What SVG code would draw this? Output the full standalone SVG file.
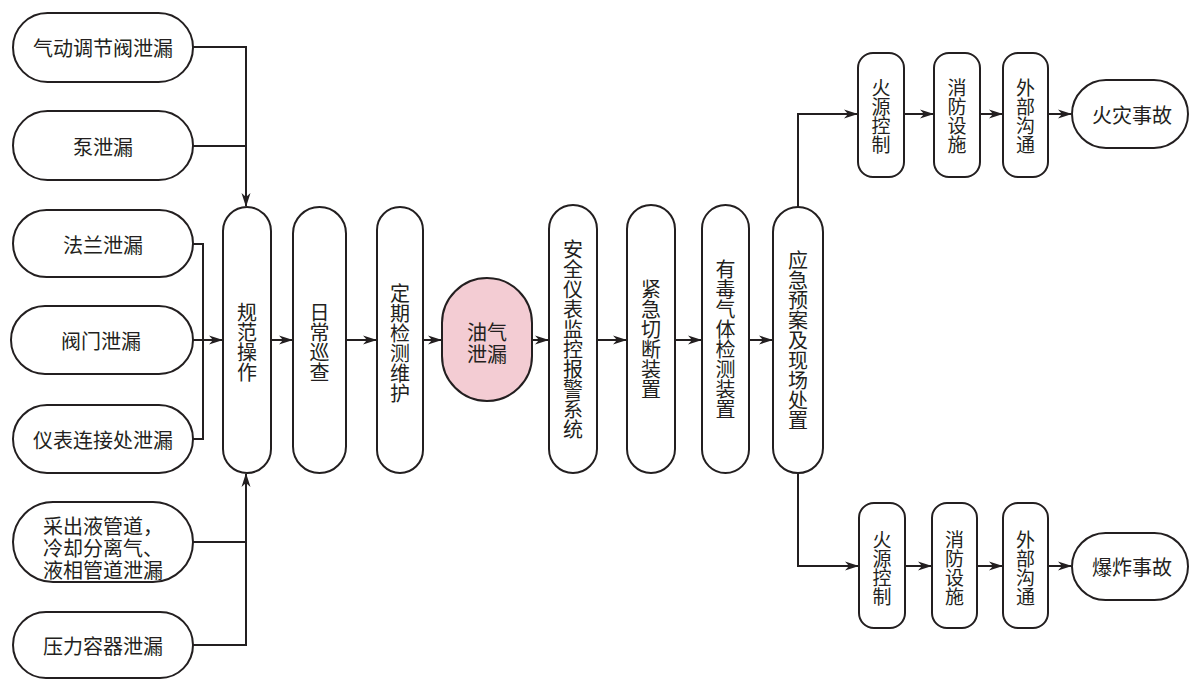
<svg xmlns="http://www.w3.org/2000/svg" width="1190" height="680" viewBox="0 0 1190 680">
<defs>
<style>
.n{fill:#fff;stroke:#231f20;stroke-width:2}
.pink{fill:#f3ccd3}
.t{font-family:"Noto Sans CJK SC","Noto Sans CJK TC",sans-serif;font-size:20px;fill:#231f20;text-anchor:middle;dominant-baseline:central}
.v{writing-mode:vertical-rl}
.s{font-size:19px}
.l{text-anchor:start}
.c{fill:none;stroke:#231f20;stroke-width:2}
</style>
<marker id="ar" viewBox="0 0 14 10" refX="13" refY="5" markerWidth="14" markerHeight="10" markerUnits="userSpaceOnUse" orient="auto">
<path d="M0,0.5 L14,5 L0,9.5 L4,5 Z" fill="#231f20"/>
</marker>
</defs>
<rect width="1190" height="680" fill="#fff"/>
<g id="connectors">
<path class="c" d="M193,47 H246 V206" marker-end="url(#ar)"/>
<path class="c" d="M193,146 H246"/>
<path class="c" d="M193,244 H203 V439 H193"/>
<path class="c" d="M193,340 H222" marker-end="url(#ar)"/>
<path class="c" d="M193,542 H246"/>
<path class="c" d="M193,645 H246 V474" marker-end="url(#ar)"/>
<path class="c" d="M271,340 H292" marker-end="url(#ar)"/>
<path class="c" d="M346,340 H376" marker-end="url(#ar)"/>
<path class="c" d="M423,340 H441" marker-end="url(#ar)"/>
<path class="c" d="M532,340 H548" marker-end="url(#ar)"/>
<path class="c" d="M597,340 H626" marker-end="url(#ar)"/>
<path class="c" d="M675,340 H701" marker-end="url(#ar)"/>
<path class="c" d="M749,340 H772" marker-end="url(#ar)"/>
<path class="c" d="M798,207 V114 H857" marker-end="url(#ar)"/>
<path class="c" d="M904,114 H933" marker-end="url(#ar)"/>
<path class="c" d="M980,114 H1002" marker-end="url(#ar)"/>
<path class="c" d="M1048,114 H1071" marker-end="url(#ar)"/>
<path class="c" d="M798,473 V566 H858" marker-end="url(#ar)"/>
<path class="c" d="M905,566 H931" marker-end="url(#ar)"/>
<path class="c" d="M977,566 H1002" marker-end="url(#ar)"/>
<path class="c" d="M1048,566 H1071" marker-end="url(#ar)"/>
</g>
<g id="n1"><rect class="n" x="13" y="13" width="180" height="69" rx="34.5"/><text class="t" x="103" y="47">气动调节阀泄漏</text></g>
<g id="n2"><rect class="n" x="13" y="111" width="180" height="69" rx="34.5"/><text class="t" x="103" y="146">泵泄漏</text></g>
<g id="n3"><rect class="n" x="13" y="210" width="180" height="67" rx="33.5"/><text class="t" x="103" y="244">法兰泄漏</text></g>
<g id="n4"><rect class="n" x="11" y="306" width="182" height="68" rx="34"/><text class="t" x="101" y="340">阀门泄漏</text></g>
<g id="n5"><rect class="n" x="13" y="405" width="180" height="68" rx="34"/><text class="t" x="103" y="439">仪表连接处泄漏</text></g>
<g id="n6"><rect class="n" x="13" y="502" width="180" height="80" rx="40"/><text class="t l" x="43" y="525">采出液管道，</text><text class="t l" x="43" y="547">冷却分离气、</text><text class="t l" x="43" y="569">液相管道泄漏</text></g>
<g id="n7"><rect class="n" x="13" y="612" width="180" height="66" rx="33"/><text class="t" x="103" y="645">压力容器泄漏</text></g>
<g id="n8"><rect class="n" x="223" y="207" width="48" height="266" rx="24"/><text class="t v" x="247" y="342">规范操作</text></g>
<g id="n9"><rect class="n" x="293" y="207" width="53" height="266" rx="26.5"/><text class="t v" x="319.5" y="342">日常巡查</text></g>
<g id="n10"><rect class="n" x="377" y="207" width="46" height="266" rx="23"/><text class="t v" x="400" y="343">定期检测维护</text></g>
<g id="n11"><rect class="n pink" x="442" y="278" width="90" height="123" rx="45"/><text class="t"><tspan x="487" y="331">油气</tspan><tspan x="487" y="353">泄漏</tspan></text></g>
<g id="n12"><rect class="n" x="549" y="205" width="48" height="268" rx="24"/><text class="t v" x="573" y="339">安全仪表监控报警系统</text></g>
<g id="n13"><rect class="n" x="627" y="205" width="48" height="268" rx="24"/><text class="t v" x="651" y="339">紧急切断装置</text></g>
<g id="n14"><rect class="n" x="702" y="205" width="47" height="268" rx="23.5"/><text class="t v" x="725.5" y="339">有毒气体检测装置</text></g>
<g id="n15"><rect class="n" x="773" y="207" width="50" height="266" rx="25"/><text class="t v" x="798" y="340">应急预案及现场处置</text></g>
<g id="n16"><rect class="n" x="858" y="53" width="46" height="124" rx="15"/><text class="t s v" x="881" y="116">火源控制</text></g>
<g id="n17"><rect class="n" x="934" y="53" width="46" height="124" rx="15"/><text class="t s v" x="957" y="116">消防设施</text></g>
<g id="n18"><rect class="n" x="1003" y="53" width="45" height="124" rx="15"/><text class="t s v" x="1025.5" y="116">外部沟通</text></g>
<g id="n19"><rect class="n" x="1072" y="80" width="116" height="68" rx="34"/><text class="t" x="1132" y="114">火灾事故</text></g>
<g id="n20"><rect class="n" x="859" y="503" width="46" height="125" rx="15"/><text class="t s v" x="882" y="568">火源控制</text></g>
<g id="n21"><rect class="n" x="932" y="503" width="45" height="125" rx="15"/><text class="t s v" x="954.5" y="568">消防设施</text></g>
<g id="n22"><rect class="n" x="1003" y="503" width="45" height="125" rx="15"/><text class="t s v" x="1025.5" y="568">外部沟通</text></g>
<g id="n23"><rect class="n" x="1072" y="533" width="116" height="67" rx="33.5"/><text class="t" x="1132" y="566">爆炸事故</text></g>
</svg>
